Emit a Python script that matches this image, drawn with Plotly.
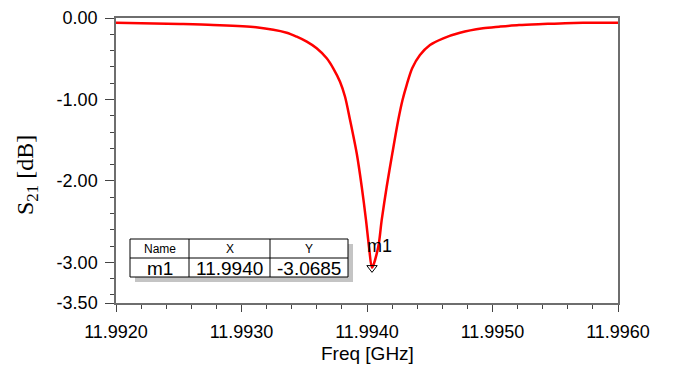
import plotly.graph_objects as go

# ---------------- data ----------------
freq_ghz = [
    11.992000, 11.992510, 11.992773, 11.993116, 11.993360, 11.993440,
    11.993520, 11.993599, 11.993679, 11.993731, 11.993785, 11.993825,
    11.993865, 11.993918, 11.993958, 11.993992, 11.994016, 11.994040,
    11.994090, 11.994117, 11.994157, 11.994202, 11.994249, 11.994283,
    11.994316, 11.994360, 11.994422, 11.994502, 11.994608, 11.994741,
    11.994924, 11.995052, 11.995211, 11.995402, 11.995721, 11.996000,
]
s21_db = [
    -0.058, -0.074, -0.086, -0.114, -0.181, -0.230,
    -0.291, -0.372, -0.495, -0.618, -0.783, -0.967,
    -1.253, -1.662, -2.072, -2.482, -2.810, -3.0685,
    -2.810, -2.482, -2.072, -1.662, -1.253, -1.007,
    -0.823, -0.618, -0.455, -0.332, -0.249, -0.181,
    -0.127, -0.107, -0.086, -0.074, -0.058, -0.058,
]

x_tickvals = [11.992, 11.993, 11.994, 11.995, 11.996]
x_ticktext = ["11.9920", "11.9930", "11.9940", "11.9950", "11.9960"]
y_tickvals = [0.0, -1.0, -2.0, -3.0, -3.5]
y_ticktext = ["0.00", "-1.00", "-2.00", "-3.00", "-3.50"]

marker_name = "m1"
marker_x = 11.99404
marker_y = -3.0685

# ---------------- layout helpers (pixel -> paper) ----------------
W, H = 678, 367
L, R, T, B = 116, 618, 18, 303


def pxx(x):
    return (x - L) / (R - L)


def pxy(y):
    return (B - y) / (B - T)


AX = "#6e6e6e"
FONT = "Liberation Sans, Arial, sans-serif"

fig = go.Figure()
fig.add_trace(go.Scatter(
    x=freq_ghz, y=s21_db, mode="lines",
    line=dict(color="#ff0000", width=2.5, shape="spline", smoothing=0.8),
    hoverinfo="skip", showlegend=False,
))
fig.add_trace(go.Scatter(
    x=[marker_x], y=[marker_y], mode="markers",
    marker=dict(symbol="triangle-down-open", size=9, color="black",
                line=dict(width=1)),
    hoverinfo="skip", showlegend=False,
))

shapes = []
# table shadow
shapes.append(dict(type="rect", xref="paper", yref="paper",
                   x0=pxx(135), x1=pxx(353), y0=pxy(282), y1=pxy(244),
                   fillcolor="#c4c4c4", line=dict(width=0), layer="above"))
# table box
shapes.append(dict(type="rect", xref="paper", yref="paper",
                   x0=pxx(130), x1=pxx(348), y0=pxy(277), y1=pxy(239),
                   fillcolor="white", line=dict(color="black", width=1),
                   layer="above"))
# row divider
shapes.append(dict(type="line", xref="paper", yref="paper",
                   x0=pxx(130), x1=pxx(348), y0=pxy(258), y1=pxy(258),
                   line=dict(color="black", width=1), layer="above"))
# column dividers
for cx in (189, 270):
    shapes.append(dict(type="line", xref="paper", yref="paper",
                       x0=pxx(cx), x1=pxx(cx), y0=pxy(277), y1=pxy(239),
                       line=dict(color="black", width=1), layer="above"))

annotations = []
headers = ["Name", "X", "Y"]
values = [marker_name, f"{marker_x:.4f}", f"{marker_y:.4f}"]
col_centers = [159.5, 229.5, 309]
for c, h, v in zip(col_centers, headers, values):
    annotations.append(dict(xref="paper", yref="paper", x=pxx(c), y=pxy(248.5),
                            text=h, showarrow=False, xanchor="center",
                            yanchor="middle",
                            font=dict(family=FONT, size=12, color="black")))
    annotations.append(dict(xref="paper", yref="paper", x=pxx(c), y=pxy(268),
                            text=v, showarrow=False, xanchor="center",
                            yanchor="middle",
                            font=dict(family=FONT, size=19, color="black")))

# marker label
annotations.append(dict(x=marker_x, y=marker_y, xref="x", yref="y",
                        text=marker_name, showarrow=False,
                        xanchor="left", yanchor="bottom",
                        xshift=-7, yshift=10,
                        font=dict(family=FONT, size=18, color="black")))
# axis titles
annotations.append(dict(xref="paper", yref="paper", x=pxx(27), y=pxy(175),
                        text="S<sub>21</sub> [dB]", showarrow=False,
                        textangle=-90, xanchor="center", yanchor="middle",
                        font=dict(family="Liberation Serif, serif", size=24,
                                  color="black")))
annotations.append(dict(xref="paper", yref="paper", x=pxx(367), y=pxy(353),
                        text="Freq [GHz]", showarrow=False,
                        xanchor="center", yanchor="middle",
                        font=dict(family=FONT, size=19, color="black")))

fig.update_layout(
    width=W, height=H, autosize=False,
    margin=dict(l=L, r=W - R, t=T, b=H - B, pad=0),
    paper_bgcolor="white", plot_bgcolor="white",
    shapes=shapes, annotations=annotations,
    xaxis=dict(
        range=[11.992, 11.996], showgrid=False, zeroline=False,
        automargin=False,
        showline=True, linecolor=AX, linewidth=1.5, mirror=True,
        tickmode="array", tickvals=x_tickvals, ticktext=x_ticktext,
        ticks="outside", ticklen=7, tickwidth=1, tickcolor="#444",
        ticklabelstandoff=5,
        tickfont=dict(family=FONT, size=18, color="black"),
        minor=dict(tickmode="linear", tick0=11.992, dtick=0.0002,
                   ticks="outside", ticklen=4, tickcolor="#444",
                   showgrid=False),
    ),
    yaxis=dict(
        range=[-3.5, 0], showgrid=False, zeroline=False,
        automargin=False,
        showline=True, linecolor=AX, linewidth=1.5, mirror=True,
        tickmode="array", tickvals=y_tickvals, ticktext=y_ticktext,
        ticks="outside", ticklen=9, tickwidth=1, tickcolor="#444",
        ticklabelstandoff=4,
        tickfont=dict(family=FONT, size=18, color="black"),
        minor=dict(tickmode="linear", tick0=0, dtick=0.2,
                   ticks="outside", ticklen=4, tickcolor="#444",
                   showgrid=False),
    ),
)

fig.write_html(
    "out.html",
    config={"displayModeBar": False},
    post_script="document.body.style.margin='0';document.body.style.overflow='hidden';",
)
